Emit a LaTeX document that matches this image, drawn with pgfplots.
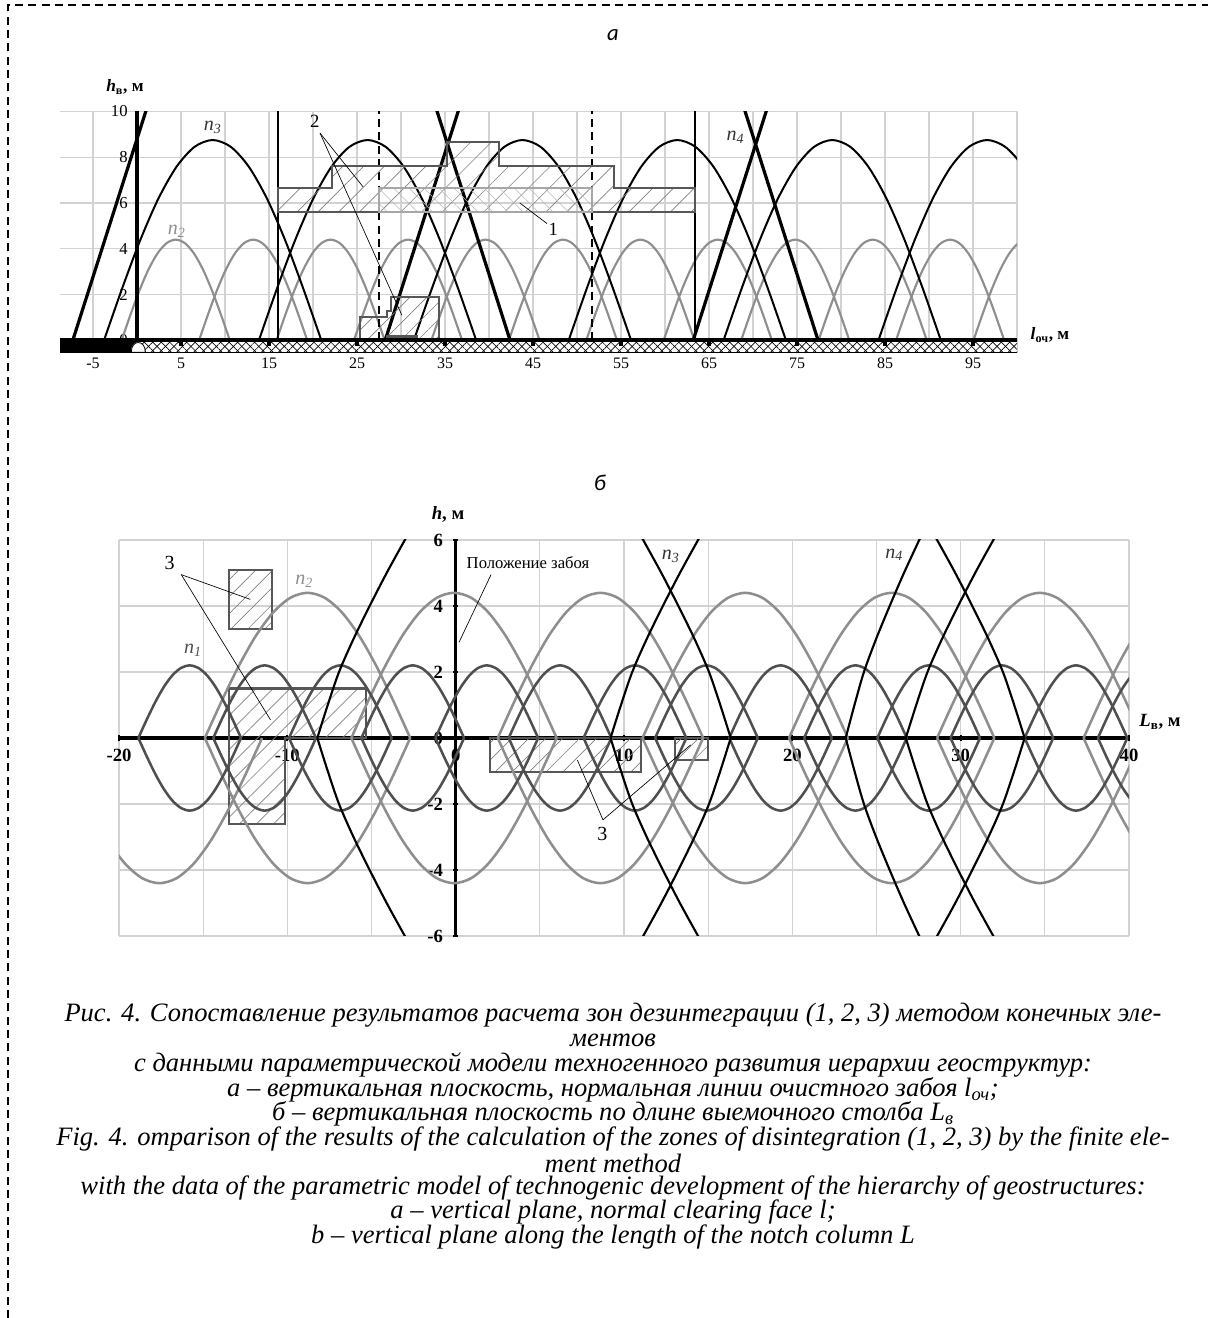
\documentclass[border=0pt]{standalone}
\usepackage{pgfplots}
\pgfplotsset{compat=1.18}
\usepackage{pgfplotstable}
\usepackage{fontspec}
\setmainfont{Liberation Serif}
\newfontfamily\panelfont{Carlito}
\usetikzlibrary{patterns.meta}
\definecolor{ngray}{HTML}{8E8E8E}
\definecolor{ndark}{HTML}{4F4F4F}
\definecolor{rgray}{HTML}{575757}
\definecolor{gridc}{HTML}{D2D2D2}

% unit half-cosine arch profile (t from -1 to 1)
\pgfplotstableread{
t s
-1 0
-0.8333 0.2588
-0.6667 0.5
-0.5 0.7071
-0.3333 0.8660
-0.1667 0.9659
0 1
0.1667 0.9659
0.3333 0.8660
0.5 0.7071
0.6667 0.5
0.8333 0.2588
1 0
}\archtable

% side profile of the n3 curves in panel b (distance from zero point, height)
\pgfplotstableread{
d h
0 0
0.62 1
1.29 2
2.15 3
3.11 4
4.12 5
5.2 6
6.3 7
}\sidetable

\begin{document}
\begin{tikzpicture}[x=0.75pt,y=0.75pt]
\path[use as bounding box] (0,0) rectangle (1208,1318);
\draw[line width=1pt, dash pattern=on 6pt off 4pt] (8,0) -- (8,1313) -- (1208,1313);
\coordinate (topSW) at (60,965);
\coordinate (botSW) at (119,382);

\node[font=\panelfont\itshape\fontsize{17}{20}\selectfont] at (613,1283) {а};
\node[font=\panelfont\itshape\fontsize{17}{20}\selectfont] at (600,835) {б};

%================ TOP CHART =================
\begin{axis}[
  at={(topSW)}, anchor=south west, scale only axis,
  width=717.75pt, height=181.2pt,
  xmin=-8.75, xmax=100, ymin=-0.55, ymax=10,
  axis x line*=bottom, axis y line*=middle,
  x axis line style={draw=none},
  y axis line style={line width=2.2pt,-},
  xtick={-5,5,...,95},
  xticklabels={-5,5,15,25,35,45,55,65,75,85,95},
  minor xtick={0,10,...,100},
  ytick={0,2,...,10},
  yticklabels={0,2,4,6,8,10},
  grid=both,
  major grid style={gridc,line width=0.8pt},
  minor grid style={gridc,line width=0.8pt},
  tick style={draw=none},
  xticklabel style={font=\fontsize{12}{13}\selectfont},
  yticklabel style={font=\fontsize{12.5}{13}\selectfont, anchor=east, xshift=-3.5pt},
]
% n2 arches
\pgfplotsinvokeforeach{4.4,13.2,22.0,30.8,39.6,48.4,57.2,66.0,74.8,83.6,92.4,101.2}{
  \addplot[ngray, line width=1.6pt, smooth] table[x expr=\thisrow{t}*6.15+#1, y expr=\thisrow{s}*4.4]{\archtable};
}
% n3 arches
\pgfplotsinvokeforeach{8.6,26.2,43.8,61.4,79.0,96.6}{
  \addplot[black, line width=1.5pt, smooth] table[x expr=\thisrow{t}*12.35+#1, y expr=\thisrow{s}*8.75]{\archtable};
}
% n4 sides
\addplot[black, line width=2.4pt] coordinates {(-7.3,0) (1.83,11)};
\addplot[black, line width=2.4pt] coordinates {(28.2,0) (37.33,11)};
\addplot[black, line width=2.4pt] coordinates {(63.2,0) (72.33,11)};
\addplot[black, line width=2.4pt] coordinates {(42.4,0) (33.27,11)};
\addplot[black, line width=2.4pt] coordinates {(77.4,0) (68.27,11)};
% vertical lines
\addplot[black, line width=2.3pt] coordinates {(0,0) (0,10)};
\addplot[black, line width=1.5pt] coordinates {(16,0) (16,10)};
\addplot[black, line width=1.5pt] coordinates {(63.4,0) (63.4,10)};
\addplot[black, line width=1.6pt, dash pattern=on 6pt off 4pt] coordinates {(27.5,0) (27.5,10)};
\addplot[black, line width=1.6pt, dash pattern=on 6pt off 4pt] coordinates {(51.7,0) (51.7,10)};
% zone 2 (upper)
\addplot[draw=rgray, line width=1.5pt, pattern={Lines[angle=45,distance=11pt,line width=0.5pt]}, pattern color=gray]
  coordinates {(16,5.6) (16,6.65) (22.2,6.65) (22.2,7.6) (35.2,7.6) (35.2,8.65) (41.1,8.65) (41.1,7.6) (54.2,7.6) (54.2,6.65) (63.4,6.65) (63.4,5.6)} -- cycle;
% zone 1
\addplot[draw=gray!70, line width=1.5pt, pattern={Lines[angle=-45,distance=8pt,line width=0.4pt]}, pattern color=gray!55]
  coordinates {(27.5,5.6) (51.7,5.6) (51.7,6.65) (27.5,6.65)} -- cycle;
% zone 2 (lower)
\addplot[draw=rgray, line width=1.5pt, pattern={Lines[angle=45,distance=9pt,line width=0.5pt]}, pattern color=gray]
  coordinates {(25.3,0) (25.3,1.0) (28.4,1.0) (28.4,1.3) (28.9,1.3) (28.9,1.9) (34.3,1.9) (34.3,0)} -- cycle;
\addplot[rgray, line width=2.5pt] coordinates {(28.3,0.17) (31.9,0.17)};
% labels
\draw[line width=0.5pt] (axis cs:20.8,9.05) -- (axis cs:25.7,6.7);
\draw[line width=0.5pt] (axis cs:20.8,9.05) -- (axis cs:30.1,1.1);
\node[font=\fontsize{14}{15}\selectfont] at (axis cs:20.2,9.55) {2};
\draw[line width=0.5pt] (axis cs:46.6,5.1) -- (axis cs:43.5,6.0);
\node[font=\fontsize{14}{15}\selectfont] at (axis cs:47.3,4.85) {1};
\node[font=\itshape\fontsize{15}{16}\selectfont, black!80] at (axis cs:8.6,9.3) {n\textsubscript{3}};
\node[font=\itshape\fontsize{15}{16}\selectfont, ngray] at (axis cs:4.5,4.75) {n\textsubscript{2}};
\node[font=\itshape\fontsize{15}{16}\selectfont, black!80] at (axis cs:68.0,8.85) {n\textsubscript{4}};
% base band
\fill[white] (axis cs:0,0) rectangle (axis cs:100,-0.55);
\fill[pattern={Lines[angle=45,distance=4.5pt,line width=0.5pt]}, pattern color=black] (axis cs:0,0) rectangle (axis cs:100,-0.52);
\fill[pattern={Lines[angle=-45,distance=4.5pt,line width=0.5pt]}, pattern color=black] (axis cs:0,0) rectangle (axis cs:100,-0.52);
\fill[black] (axis cs:-8.75,0.05) rectangle (axis cs:0,-0.55);
\draw[line width=1.2pt] (axis cs:-8.75,-0.52) -- (axis cs:100,-0.52);
\draw[line width=0.6pt, fill=white] (axis cs:-0.65,-0.52) .. controls (axis cs:-0.65,0.05) and (axis cs:0.95,0.05) .. (axis cs:0.95,-0.52) -- cycle;
\draw[line width=3pt] (axis cs:-8.75,0) -- (axis cs:100,0);
\addplot[only marks, mark=square*, mark size=1.3pt, black] coordinates {(5,-0.12) (15,-0.12) (25,-0.12) (35,-0.12) (45,-0.12) (55,-0.12) (65,-0.12) (75,-0.12) (85,-0.12) (95,-0.12)};
\end{axis}

\node[font=\bfseries\fontsize{13}{14}\selectfont] at (125,1231) {\textit{h}\textsubscript{в}, м};
\node[font=\bfseries\fontsize{13}{14}\selectfont] at (1050,983) {\textit{l}\textsubscript{оч}, м};

%================ BOTTOM CHART =================
\begin{axis}[
  at={(botSW)}, anchor=south west, scale only axis,
  width=757.5pt, height=297pt,
  xmin=-20, xmax=40, ymin=-6, ymax=6,
  axis lines=middle, axis line style={line width=2.6pt,-},
  xtick={-20,-10,...,40}, xticklabels={-20,-10,0,10,20,30,40},
  minor xtick={-15,-5,...,35},
  ytick={-6,-4,...,6}, yticklabels={-6,-4,-2,0,2,4,6},
  hide obscured x ticks=false, hide obscured y ticks=false,
  grid=both,
  major grid style={gridc,line width=0.8pt},
  minor grid style={gridc,line width=0.8pt},
  major tick length=4pt, minor tick length=0pt,
  tick style={line width=1.4pt, black},
  xticklabel style={font=\bfseries\fontsize{14}{15}\selectfont, anchor=north, yshift=-3pt},
  yticklabel style={font=\bfseries\fontsize{14}{15}\selectfont, anchor=east, xshift=-4pt},
]
% zones 3
\addplot[draw=rgray, line width=1.6pt, pattern={Lines[angle=45,distance=9pt,line width=0.5pt]}, pattern color=gray]
  coordinates {(-13.47,3.3) (-10.93,3.3) (-10.93,5.1) (-13.47,5.1)} -- cycle;
\addplot[draw=rgray, line width=1.6pt, pattern={Lines[angle=45,distance=9pt,line width=0.5pt]}, pattern color=gray]
  coordinates {(-13.47,1.5) (-5.35,1.5) (-5.35,0) (-10.14,0) (-10.14,-2.6) (-13.47,-2.6)} -- cycle;
\addplot[draw=rgray, line width=1.6pt, pattern={Lines[angle=45,distance=9pt,line width=0.5pt]}, pattern color=gray]
  coordinates {(2.02,0) (11.0,0) (11.0,-1.02) (2.02,-1.02)} -- cycle;
\addplot[draw=rgray, line width=1.6pt, pattern={Lines[angle=45,distance=9pt,line width=0.5pt]}, pattern color=gray]
  coordinates {(13.01,0) (15.0,0) (15.0,-0.67) (13.01,-0.67)} -- cycle;
% n2 (light gray)
\addplot[ngray, line width=1.9pt, smooth] table[x expr=\thisrow{t}*6.1-17.6, y expr=-\thisrow{s}*4.4]{\archtable};
\pgfplotsinvokeforeach{-8.8,-0.1,8.6,17.2,25.9,34.7,43.4}{
  \addplot[ngray, line width=1.9pt, smooth] table[x expr=\thisrow{t}*6.1+#1, y expr=\thisrow{s}*4.4]{\archtable};
  \addplot[ngray, line width=1.9pt, smooth] table[x expr=\thisrow{t}*6.1+#1, y expr=-\thisrow{s}*4.4]{\archtable};
}
% n1 (dark gray)
\pgfplotsinvokeforeach{-15.8,-11.35,-6.85,-2.55,1.85,6.2,10.65,14.9,19.3,23.75,28.1,32.45,36.85,41.2}{
  \addplot[ndark, line width=1.9pt, smooth] table[x expr=\thisrow{t}*3.05+#1, y expr=\thisrow{s}*2.2]{\archtable};
  \addplot[ndark, line width=1.9pt, smooth] table[x expr=\thisrow{t}*3.05+#1, y expr=-\thisrow{s}*2.2]{\archtable};
}
% n3 sides (black)
\pgfplotsinvokeforeach{-8.22,9.2,26.74}{
  \addplot[black, line width=1.6pt, smooth] table[x expr=#1+\thisrow{d}, y expr=\thisrow{h}]{\sidetable};
  \addplot[black, line width=1.6pt, smooth] table[x expr=#1+\thisrow{d}, y expr=-\thisrow{h}]{\sidetable};
}
\pgfplotsinvokeforeach{16.34,33.8}{
  \addplot[black, line width=1.6pt, smooth] table[x expr=#1-\thisrow{d}, y expr=\thisrow{h}]{\sidetable};
  \addplot[black, line width=1.6pt, smooth] table[x expr=#1-\thisrow{d}, y expr=-\thisrow{h}]{\sidetable};
}
% n4 side
\addplot[black, line width=1.6pt, smooth] table[x expr=23.17+0.84*\thisrow{d}, y expr=\thisrow{h}]{\sidetable};
\addplot[black, line width=1.6pt, smooth] table[x expr=23.17+0.84*\thisrow{d}, y expr=-\thisrow{h}]{\sidetable};
% labels
\node[font=\fontsize{15}{16}\selectfont] at (axis cs:-17.0,5.3) {3};
\draw[line width=0.5pt] (axis cs:-16.3,4.95) -- (axis cs:-12.2,4.2);
\draw[line width=0.5pt] (axis cs:-16.3,4.95) -- (axis cs:-11.0,0.55);
\node[font=\fontsize{15}{16}\selectfont] at (axis cs:8.72,-2.9) {3};
\draw[line width=0.5pt] (axis cs:8.75,-2.48) -- (axis cs:7.23,-0.67);
\draw[line width=0.5pt] (axis cs:8.75,-2.48) -- (axis cs:13.96,-0.21);
\node[font=\fontsize{12.5}{13}\selectfont] at (axis cs:4.3,5.3) {Положение забоя};
\draw[line width=0.5pt] (axis cs:2.1,4.95) -- (axis cs:0.2,2.9);
\node[font=\itshape\fontsize{15}{16}\selectfont, ndark] at (axis cs:-15.6,2.65) {n\textsubscript{1}};
\node[font=\itshape\fontsize{15}{16}\selectfont, ngray] at (axis cs:-9.0,4.75) {n\textsubscript{2}};
\node[font=\itshape\fontsize{15}{16}\selectfont, black!80] at (axis cs:12.78,5.5) {n\textsubscript{3}};
\node[font=\itshape\fontsize{15}{16}\selectfont, black!80] at (axis cs:26.05,5.55) {n\textsubscript{4}};
\end{axis}

\node[font=\bfseries\fontsize{14}{15}\selectfont] at (448,804) {\textit{h}, м};
\node[font=\bfseries\fontsize{14}{15}\selectfont] at (1160,596) {\textit{L}\textsubscript{в}, м};

%================ CAPTION =================
\begin{scope}[every node/.style={font=\itshape\fontsize{19.9}{20}\selectfont, inner sep=0pt}]
\node at (613,303) {Рис. 4. Сопоставление результатов расчета зон дезинтеграции (1, 2, 3) методом конечных эле-};
\node at (613,278) {ментов};
\node at (613,253) {с данными параметрической модели техногенного развития иерархии геоструктур:};
\node at (613,228) {а – вертикальная плоскость, нормальная линии очистного забоя \textit{l}\textsubscript{оч};};
\node at (613,204) {б – вертикальная плоскость по длине выемочного столба \textit{L}\textsubscript{в}};
\node at (613,179) {Fig. 4. omparison of the results of the calculation of the zones of disintegration (1, 2, 3) by the finite ele-};
\node at (613,155) {ment method};
\node at (613,130) {with the data of the parametric model of technogenic development of the hierarchy of geostructures:};
\node at (613,106) {a – vertical plane, normal clearing face l;};
\node at (613,81) {b – vertical plane along the length of the notch column L};
\end{scope}
\end{tikzpicture}
\end{document}
